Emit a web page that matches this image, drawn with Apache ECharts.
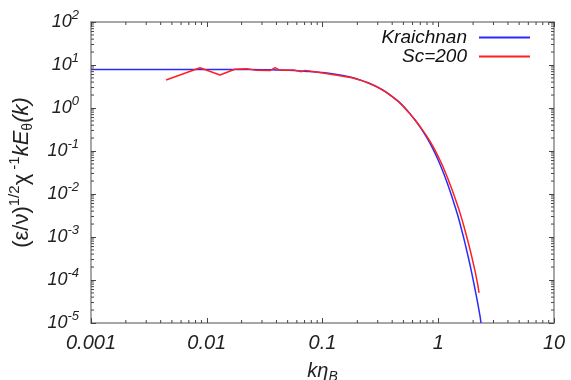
<!DOCTYPE html>
<html>
<head>
<meta charset="utf-8">
<script src="https://cdn.jsdelivr.net/npm/echarts@6/dist/echarts.min.js"></script>
<style>
html,body{margin:0;padding:0;background:#fff;}
#chart{width:571px;height:380px;}
</style>
</head>
<body>
<div id="chart"></div>
<script>
// ---- data ----
const kraichnanK = [0.001, 0.01, 0.02, 0.03, 0.04, 0.05, 0.065, 0.08, 0.1, 0.125, 0.15, 0.18, 0.21, 0.25, 0.3, 0.35, 0.4, 0.45, 0.5, 0.56, 0.63, 0.7, 0.78, 0.85, 0.92, 1.0, 1.1, 1.2, 1.3, 1.4, 1.5, 1.6, 1.7, 1.8, 1.9, 2.0, 2.1, 2.2, 2.3, 2.34];
const kraichnanV = [7.9, 7.9, 7.85, 7.8, 7.65, 7.55, 7.3, 7.0, 6.65, 6.2, 5.7, 5.1, 4.5, 3.8, 3.05, 2.4, 1.85, 1.45, 1.1, 0.78, 0.525, 0.355, 0.225, 0.151, 0.099, 0.061, 0.033, 0.0176, 0.0094, 0.005, 0.0027, 0.0014, 7.3e-4, 3.8e-4, 2.0e-4, 1.02e-4, 5.3e-5, 2.75e-5, 1.4e-5, 1.0e-5];
const sc200K = [0.00445, 0.00875, 0.013, 0.0175, 0.0221, 0.027, 0.0352, 0.0389, 0.043, 0.056, 0.066, 0.0706, 0.089, 0.1416, 0.18, 0.21, 0.25, 0.3, 0.35, 0.4, 0.45, 0.5, 0.56, 0.63, 0.7, 0.78, 0.85, 0.92, 1.0, 1.1, 1.2, 1.3, 1.4, 1.5, 1.6, 1.7, 1.8, 1.9, 2.0, 2.1, 2.2, 2.25];
const sc200V = [4.48, 8.65, 5.85, 7.94, 8.2, 7.5, 7.4, 8.65, 7.5, 7.7, 7.0, 7.5, 6.87, 5.64, 5.05, 4.5, 3.8, 3.03, 2.38, 1.83, 1.43, 1.09, 0.77, 0.525, 0.365, 0.24, 0.168, 0.115, 0.074, 0.043, 0.0243, 0.0138, 0.0079, 0.0046, 0.0026, 0.00146, 8.2e-4, 4.6e-4, 2.55e-4, 1.43e-4, 7.5e-5, 5.0e-5];
const seriesNames = ['Kraichnan', 'Sc=200'];
const xTickLabels = ['0.001', '0.01', '0.1', '1', '10'];
const yTickExponents = ['-5', '-4', '-3', '-2', '-1', '0', '1', '2'];
const xMinorTicks = [];
[0.001, 0.01, 0.1, 1].forEach(function (d) { for (let m = 2; m <= 9; m++) xMinorTicks.push(m * d); });
const yMinorTicks = [];
[1e-5, 1e-4, 1e-3, 1e-2, 1e-1, 1, 10].forEach(function (d) { for (let m = 2; m <= 9; m++) yMinorTicks.push(m * d); });

const X_MIN = 0.001, X_MAX = 10, Y_MIN = 1e-5, Y_MAX = 100;
const FONT = '"Liberation Sans", Arial, sans-serif';
const frameColor = '#8a8a8a';
const tickColor = '#444';

function pairs(a, b) { return a.map(function (v, i) { return [v, b[i]]; }); }

const chart = echarts.init(document.getElementById('chart'), null, {renderer: 'canvas'});

function baseX(pos, showLabel) {
  return {
    type: 'log', logBase: 10, min: X_MIN, max: X_MAX, splitNumber: 4, position: pos,
    axisLine: {show: true, onZero: false, lineStyle: {color: frameColor, width: 1.5}},
    axisTick: {show: true, inside: true, length: 5, lineStyle: {color: tickColor, width: 1}},
    splitLine: {show: false},
    axisLabel: showLabel ? {
      show: true, margin: 10, fontFamily: FONT, fontStyle: 'italic', fontSize: 20, color: '#222',
      formatter: function (v, i) { return xTickLabels[i]; }
    } : {show: false}
  };
}
function baseY(pos, showLabel) {
  return {
    type: 'log', logBase: 10, min: Y_MIN, max: Y_MAX, splitNumber: 7, position: pos,
    axisLine: {show: true, onZero: false, lineStyle: {color: frameColor, width: 1.5}},
    axisTick: {show: true, inside: true, length: 5, lineStyle: {color: tickColor, width: 1}},
    splitLine: {show: false},
    axisLabel: showLabel ? {
      show: true, margin: 12, fontFamily: FONT, fontStyle: 'italic', fontSize: 18, color: '#222',
      formatter: function (v, i) { return '{b|10}{s|' + yTickExponents[i] + '}'; },
      rich: {
        b: {fontFamily: FONT, fontStyle: 'italic', fontSize: 18, color: '#222'},
        s: {fontFamily: FONT, fontStyle: 'italic', fontSize: 13, color: '#222', padding: [0, 0, 14, 0]}
      }
    } : {show: false}
  };
}

const xMain = baseX('bottom', true);
xMain.name = 'k\u03b7{sub|B}';
xMain.nameLocation = 'middle';
xMain.nameGap = 35;
xMain.nameTextStyle = {
  fontFamily: FONT, fontStyle: 'italic', fontSize: 20, color: '#222',
  rich: {sub: {fontFamily: FONT, fontStyle: 'italic', fontSize: 14, color: '#222', padding: [12, 0, 0, 0]}}
};
const yMain = baseY('left', true);
yMain.name = '{n|(\u03b5/\u03bd)}{s|1/2}{n|\u03c7}{s| -1}{i|kE}{sub|\u03b8}{i|(k)}';
yMain.nameLocation = 'middle';
yMain.nameRotate = 90;
yMain.nameGap = 55;
yMain.nameTextStyle = {
  fontFamily: FONT, fontSize: 22, color: '#222',
  rich: {
    n: {fontFamily: FONT, fontSize: 22, color: '#222'},
    i: {fontFamily: FONT, fontStyle: 'italic', fontSize: 22, color: '#222'},
    s: {fontFamily: FONT, fontSize: 15, color: '#222', padding: [0, 0, 14, 0]},
    sub: {fontFamily: FONT, fontSize: 14, color: '#222', padding: [13, 0, 0, 0]}
  }
};

function minorRender(isX) {
  return function (params, api) {
    const v = api.value(isX ? 0 : 1);
    const len = 3;
    if (isX) {
      const p1 = api.coord([v, Y_MIN]);
      const p2 = api.coord([v, Y_MAX]);
      return {type: 'group', children: [
        {type: 'line', shape: {x1: p1[0], y1: p1[1], x2: p1[0], y2: p1[1] - len}, style: {stroke: tickColor, lineWidth: 1}},
        {type: 'line', shape: {x1: p2[0], y1: p2[1], x2: p2[0], y2: p2[1] + len}, style: {stroke: tickColor, lineWidth: 1}}
      ]};
    } else {
      const p1 = api.coord([X_MIN, v]);
      const p2 = api.coord([X_MAX, v]);
      return {type: 'group', children: [
        {type: 'line', shape: {x1: p1[0], y1: p1[1], x2: p1[0] + len, y2: p1[1]}, style: {stroke: tickColor, lineWidth: 1}},
        {type: 'line', shape: {x1: p2[0], y1: p2[1], x2: p2[0] - len, y2: p2[1]}, style: {stroke: tickColor, lineWidth: 1}}
      ]};
    }
  };
}

chart.setOption({
  animation: false,
  backgroundColor: '#fff',
  grid: {left: 91, right: 17, top: 22, bottom: 57, containLabel: false, outerBoundsMode: 'none'},
  legend: {
    data: seriesNames,
    orient: 'vertical', align: 'right', right: 36, top: 23,
    itemWidth: 51, itemHeight: 2, itemGap: 0, icon: 'rect',
    textStyle: {fontFamily: FONT, fontStyle: 'italic', fontSize: 19, color: '#111', lineHeight: 19, padding: [0, 7, 0, 0]}
  },
  xAxis: [xMain, baseX('top', false)],
  yAxis: [yMain, baseY('right', false)],
  series: [
    {
      name: seriesNames[0], type: 'line', xAxisIndex: 0, yAxisIndex: 0,
      data: pairs(kraichnanK, kraichnanV), showSymbol: false, symbol: 'none', smooth: 0.3,
      lineStyle: {color: '#2a2aff', width: 1.5}, itemStyle: {color: '#2a2aff'}, z: 3
    },
    {
      name: seriesNames[1], type: 'line', xAxisIndex: 0, yAxisIndex: 0,
      data: pairs(sc200K, sc200V), showSymbol: false, symbol: 'none',
      lineStyle: {color: '#ff2020', width: 1.5}, itemStyle: {color: '#ff2020'}, z: 4
    },
    {
      type: 'custom', xAxisIndex: 0, yAxisIndex: 0, silent: true, clip: false,
      data: xMinorTicks.map(function (v) { return [v, Y_MIN]; }),
      renderItem: minorRender(true), z: 5
    },
    {
      type: 'custom', xAxisIndex: 0, yAxisIndex: 0, silent: true, clip: false,
      data: yMinorTicks.map(function (v) { return [X_MIN, v]; }),
      renderItem: minorRender(false), z: 5
    }
  ]
});
</script>
</body>
</html>
